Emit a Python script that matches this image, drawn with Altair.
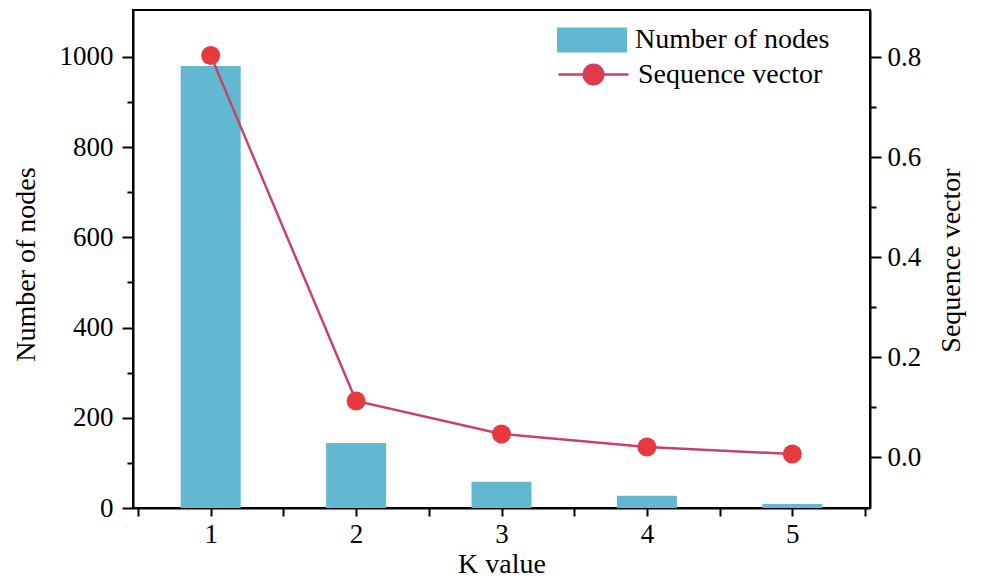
import altair as alt
import pandas as pd

k_values = [1, 2, 3, 4, 5]
num_nodes = [980, 144, 58, 27, 9]
seq_vector = [0.803, 0.112, 0.046, 0.020, 0.006]

df = pd.DataFrame({
    "k": k_values,
    "nodes": num_nodes,
    "seq": seq_vector,
    "bar_name": ["Number of nodes"] * 5,
    "line_name": ["Sequence vector"] * 5,
})

FONT = "Liberation Serif"
BAR = "#63b8d1"
LINE = "#c8426b"
DOT = "#e8393f"

x_enc = alt.X(
    "k:Q",
    scale=alt.Scale(domain=[0.5, 5.5], nice=False, zero=False),
    axis=alt.Axis(
        title="K value",
        values=[0.5, 1, 1.5, 2, 2.5, 3, 3.5, 4, 4.5, 5, 5.5],
        labelExpr="datum.value % 1 === 0 ? datum.value : ''",
        grid=False,
        tickSize=8,
        labelPadding=5,
        titlePadding=3,
    ),
)

y_left = alt.Y(
    "nodes:Q",
    scale=alt.Scale(domain=[0, 1104], nice=False),
    axis=alt.Axis(
        title="Number of nodes",
        orient="left",
        values=[0, 100, 200, 300, 400, 500, 600, 700, 800, 900, 1000],
        labelExpr="datum.value % 200 === 0 ? datum.value : ''",
        tickSize={"condition": {"test": "datum.value % 200 === 0", "value": 11}, "value": 6},
        grid=False,
        labelPadding=9,
        titleX=-107,
        titleY=254,
        titleBaseline="middle",
        titleAngle=270,
    ),
)

y_right = alt.Y(
    "seq:Q",
    scale=alt.Scale(domain=[-0.102, 0.894], nice=False, zero=False),
    axis=alt.Axis(
        title="Sequence vector",
        orient="right",
        values=[0.0, 0.1, 0.2, 0.3, 0.4, 0.5, 0.6, 0.7, 0.8],
        labelExpr="round(datum.value * 10) % 2 === 0 ? format(datum.value, '.1f') : ''",
        tickSize={"condition": {"test": "round(datum.value * 10) % 2 === 0", "value": 11}, "value": 6},
        grid=False,
        labelPadding=6,
        titleX=81,
        titleY=250,
        titleBaseline="middle",
        titleAngle=270,
    ),
)

base = alt.Chart(df)

legend_common = dict(
    title=None,
    orient="none",
    padding=0,
    symbolSize=4900,
    labelFont=FONT,
    labelFontSize=28,
    labelColor="black",
    labelOffset=8,
    labelLimit=400,
)

bars = base.mark_bar(size=60).encode(
    x=x_enc,
    y=y_left,
    color=alt.Color(
        "bar_name:N",
        scale=alt.Scale(range=[BAR]),
        legend=alt.Legend(
            legendX=424,
            legendY=-5,
            symbolType="M-1,-0.36L1,-0.36L1,0.36L-1,0.36Z",
            symbolStrokeWidth=0,
            **legend_common,
        ),
    ),
)

line = base.mark_line(color=LINE, strokeWidth=2.5).encode(x=x_enc, y=y_right)

pts = base.mark_circle(size=360, opacity=1).encode(
    x=x_enc,
    y=y_right,
    color=alt.Color(
        "line_name:N",
        scale=alt.Scale(range=[DOT]),
        legend=alt.Legend(
            legendX=424,
            legendY=28,
            symbolType="M-1,0L1,0M0.28,0A0.28,0.28 0 1,1 -0.28,0A0.28,0.28 0 1,1 0.28,0Z",
            symbolStrokeColor=LINE,
            symbolStrokeWidth=2.5,
            symbolOpacity=1,
            **legend_common,
        ),
    ),
)

chart = (
    alt.layer(bars, alt.layer(line, pts))
    .resolve_scale(y="independent", color="independent")
    .properties(
        width=737,
        height=498,
        autosize=alt.AutoSizeParams(type="none"),
        padding={"left": 133, "top": 10, "right": 114, "bottom": 71},
        background="white",
    )
    .configure_view(stroke="black", strokeWidth=2)
    .configure_axis(
        domainColor="black",
        domainWidth=2,
        tickColor="black",
        tickWidth=2,
        labelFont=FONT,
        labelFontSize=27,
        labelColor="black",
        titleFont=FONT,
        titleFontSize=28,
        titleFontWeight="normal",
        titleColor="black",
    )
)

chart.save("out.html", embed_options={"renderer": "svg", "actions": False})
